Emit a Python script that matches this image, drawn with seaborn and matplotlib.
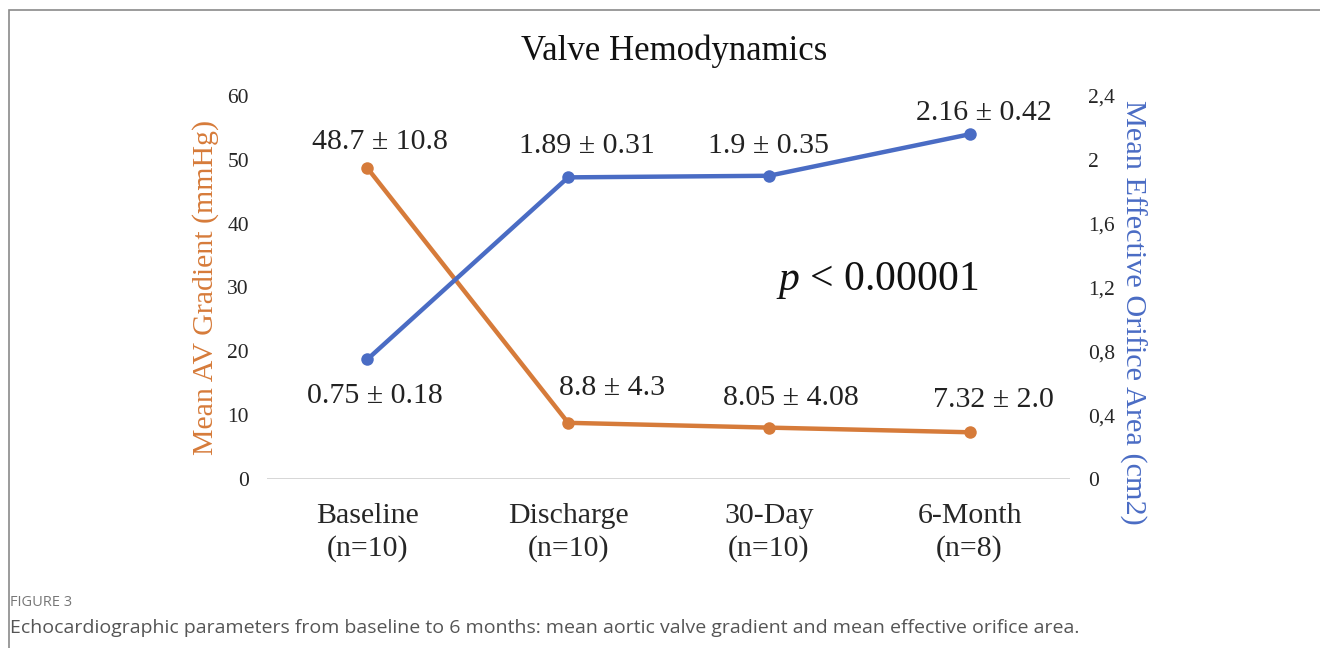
import pandas as pd
import seaborn as sns
import matplotlib.pyplot as plt
from matplotlib.patches import Rectangle

# data
timepoints = ["Baseline\n(n=10)", "Discharge\n(n=10)", "30-Day\n(n=10)", "6-Month\n(n=8)"]
gradient_mean = [48.7, 8.8, 8.05, 7.32]
gradient_sd = [10.8, 4.3, 4.08, 2.0]
eoa_mean = [0.75, 1.89, 1.9, 2.16]
eoa_sd = [0.18, 0.31, 0.35, 0.42]
left_ticks = [0, 10, 20, 30, 40, 50, 60]
right_ticks = [0, 0.4, 0.8, 1.2, 1.6, 2.0, 2.4]
right_ticklabels = ["0", "0,4", "0,8", "1,2", "1,6", "2", "2,4"]

ORANGE = "#D67B3A"
BLUE = "#4A6CC4"

sns.set_theme(style="white")
plt.rcParams["font.family"] = ["Liberation Serif", "DejaVu Serif"]
plt.rcParams["mathtext.fontset"] = "custom"
plt.rcParams["mathtext.it"] = "Liberation Serif:italic"
plt.rcParams["mathtext.rm"] = "Liberation Serif"

df = pd.DataFrame({
    "timepoint": timepoints,
    "gradient": gradient_mean,
    "eoa": eoa_mean,
})

fig = plt.figure(figsize=(13.2, 6.48), dpi=100)
ax = fig.add_axes([0.2023, 0.2608, 0.6083, 0.5911])
ax2 = ax.twinx()

sns.lineplot(data=df, x="timepoint", y="gradient", ax=ax, color=ORANGE,
             linewidth=3.2, marker="o", markersize=9, markeredgewidth=0, sort=False)
sns.lineplot(data=df, x="timepoint", y="eoa", ax=ax2, color=BLUE,
             linewidth=3.2, marker="o", markersize=9, markeredgewidth=0, sort=False)

ax.set_xlim(-0.5, 3.5)
ax.set_ylim(0, 60)
ax2.set_ylim(0, 2.4)
ax.set_yticks(left_ticks)
ax.set_yticklabels([str(t) for t in left_ticks])
ax2.set_yticks(right_ticks)
ax2.set_yticklabels(right_ticklabels)
ax.tick_params(axis="y", labelsize=15.5, length=0, pad=13)
ax2.tick_params(axis="y", labelsize=15.5, length=0, pad=13)
ax.tick_params(axis="x", labelsize=21.5, length=0, pad=17)
for lbl in ax.get_xticklabels():
    lbl.set_linespacing(1.3)

for a in (ax, ax2):
    for s in a.spines.values():
        s.set_visible(False)
    a.grid(False)
ax.axhline(0, color="#d0d0d0", lw=1.2, zorder=0)

ax.set_xlabel("")
ax.set_ylabel("Mean AV Gradient (mmHg)", color=ORANGE, fontsize=21.5, va="center")
ax.yaxis.set_label_coords(-0.076, 0.5)
ax2.set_ylabel("Mean Effective Orifice Area (cm2)", color=BLUE, fontsize=21.8,
               rotation=270, va="center")
ax2.yaxis.set_label_coords(1.078, 0.436)

# value labels, offsets in pixels from each point
grad_offsets = [(13, 26), (44, 35), (22, 30), (24, 32)]
for i, (m, sd) in enumerate(zip(gradient_mean, gradient_sd)):
    ax.annotate(f"{m} ± {sd}", (i, m), xytext=grad_offsets[i],
                textcoords="offset pixels", ha="center", va="center",
                fontsize=21.5, color="#222222")
eoa_offsets = [(7, -37), (19, 31), (0, 30), (14, 21)]
for i, (m, sd) in enumerate(zip(eoa_mean, eoa_sd)):
    ax2.annotate(f"{m} ± {sd}", (i, m), xytext=eoa_offsets[i],
                 textcoords="offset pixels", ha="center", va="center",
                 fontsize=21.5, color="#222222")

ax.text(0.760, 0.518, r"$p$ < 0.00001", transform=ax.transAxes, ha="center",
        va="center", fontsize=30, color="#111111")

fig.text(0.511, 0.921, "Valve Hemodynamics", ha="center", va="center",
         fontsize=25, color="#111111")

fig.patches.append(Rectangle((9 / 1320, -0.1), 1.5, 1 - 10 / 648 + 0.1,
                             transform=fig.transFigure, fill=False,
                             edgecolor="#8a8a8a", lw=1.2))

fig.text(10 / 1320, 1 - 603 / 648, "FIGURE 3", ha="left", va="center",
         fontsize=10.5, color="#777777", family=["Open Sans", "DejaVu Sans"])
fig.text(10 / 1320, 1 - 628 / 648,
         "Echocardiographic parameters from baseline to 6 months: mean aortic valve "
         "gradient and mean effective orifice area.",
         ha="left", va="center", fontsize=14, color="#555555",
         family=["Open Sans", "DejaVu Sans"])

fig.savefig("out.png", dpi=100)
